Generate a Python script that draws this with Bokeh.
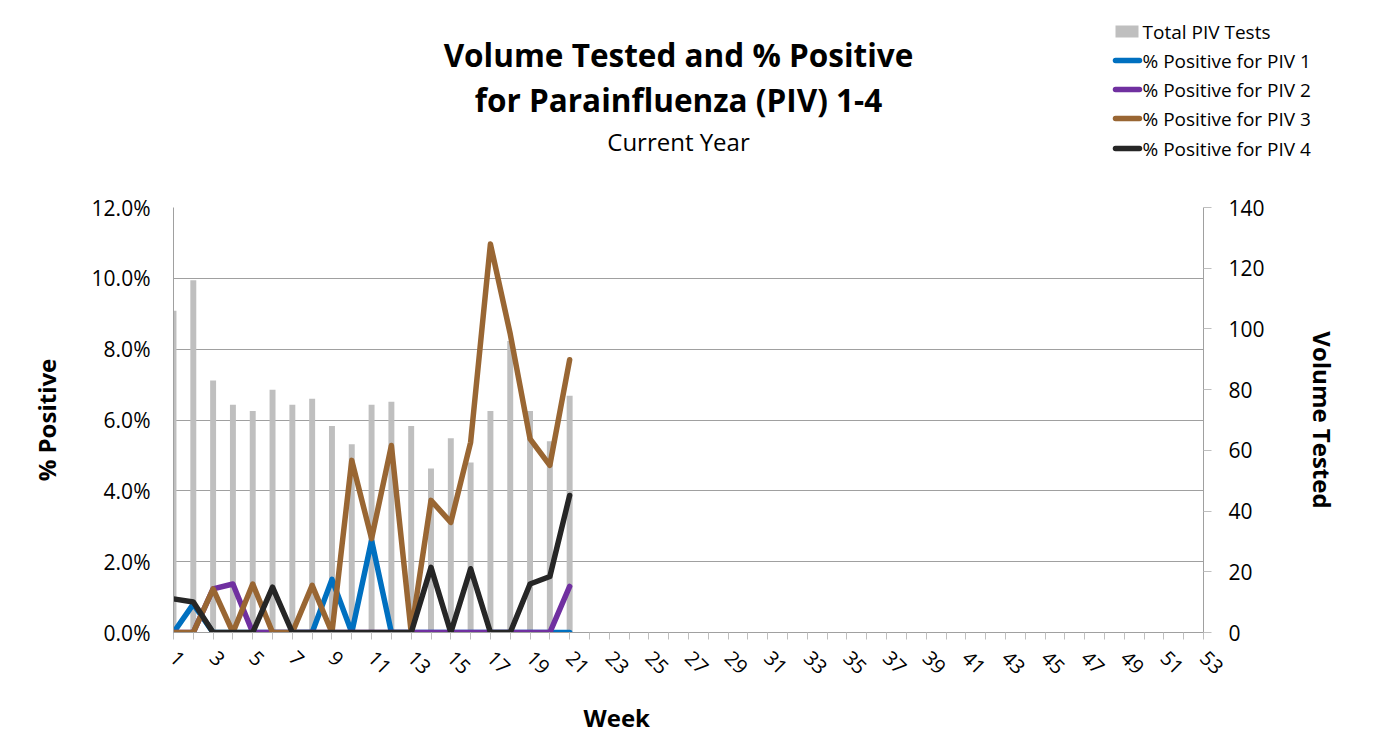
import math
from bokeh.plotting import figure
from bokeh.layouts import column
from bokeh.models import (Range1d, LinearAxis, FixedTicker, NumeralTickFormatter,
                          Label, Title, ColumnDataSource)
from bokeh.embed import file_html
from bokeh.resources import INLINE

# ---------------- data ----------------
weeks = list(range(1, 22))
total_tests = [106, 116, 83, 75, 73, 80, 75, 77, 68, 62, 75, 76, 68, 54, 64, 56, 73, 96, 73, 63, 78]
piv1_pct = [0, 0.8, 0, 0, 0, 0, 0, 0, 1.5, 0, 2.6, 0, 0, 0, 0, 0, 0, 0, 0, 0, 0]
piv2_pct = [0, 0, 1.23, 1.37, 0, 0, 0, 0, 0, 0, 0, 0, 0, 0, 0, 0, 0, 0, 0, 0, 1.3]
piv3_pct = [0, 0, 1.23, 0, 1.37, 0, 0, 1.33, 0, 4.86, 2.65, 5.28, 0, 3.73, 3.11, 5.37, 10.97, 8.43, 5.47, 4.72, 7.70]
piv4_pct = [0.95, 0.86, 0, 0, 0, 1.28, 0, 0, 0, 0, 0, 0, 0, 1.84, 0, 1.80, 0, 0, 1.37, 1.58, 3.87]

all_weeks = list(range(1, 54))
odd_week_ticks = [w for w in all_weeks if w % 2 == 1]
even_week_ticks = [w for w in all_weeks if w % 2 == 0]
pct_ticks = [0, 0.02, 0.04, 0.06, 0.08, 0.10, 0.12]
vol_ticks = [0, 20, 40, 60, 80, 100, 120, 140]

title_line1 = "Volume Tested and % Positive"
title_line2 = "for Parainfluenza (PIV) 1-4"
subtitle = "Current Year"
x_title = "Week"
series_names = ["% Positive for PIV 1", "% Positive for PIV 2", "% Positive for PIV 3", "% Positive for PIV 4"]
bar_name = "Total PIV Tests"

colors = ["#0070C0", "#7030A0", "#996633", "#262626"]
bar_color = "#BFBFBF"
FONT = "Open Sans"
LINE_W = 5.5

# ---------------- layout (pixels) ----------------
W = 1383
TOP_H = 192                            # header strip (titles + legend)
MAIN_H = 556
FL, FR, FT, FB = 173, 1203, 207, 632   # plot-frame edges on the page
LEG_X = 1112                           # legend key left edge
LEG_ROWS = [31, 60, 89, 118, 148]      # legend row centres (page y)

# ================= header figure (titles + legend) =================
head = figure(width=W, height=TOP_H, x_range=Range1d(0, W), y_range=Range1d(0, TOP_H),
              output_backend="svg", toolbar_location=None, min_border=0,
              x_axis_type=None, y_axis_type=None)
if "frame_align" in head.properties():
    head.frame_align = False
head.grid.visible = False
head.outline_line_color = None
head.background_fill_color = "white"
head.border_fill_color = "white"

for txt, px, py, size, style in [(title_line1, 678, 54, "31.5px", "bold"),
                                 (title_line2, 678, 99, "31.5px", "bold"),
                                 (subtitle, 678, 141, "24px", "normal")]:
    head.add_layout(Label(x=px, y=TOP_H - py, text=txt,
                          text_align="center", text_baseline="middle",
                          text_font=FONT, text_font_size=size, text_font_style=style,
                          text_color="#000000"))

# legend: key for the bars, then keys for the four lines
legend_labels = [bar_name] + series_names
head.quad(left=LEG_X + 3, right=LEG_X + 26, top=TOP_H - LEG_ROWS[0] + 6, bottom=TOP_H - LEG_ROWS[0] - 6,
          fill_color=bar_color, line_color=None)
for row, c in zip(LEG_ROWS[1:], colors):
    head.segment(x0=LEG_X + 3, x1=LEG_X + 27, y0=TOP_H - row, y1=TOP_H - row,
                 line_color=c, line_width=LINE_W, line_cap="round")
for row, lab in zip(LEG_ROWS, legend_labels):
    head.add_layout(Label(x=LEG_X + 30, y=TOP_H - row, text=lab,
                          text_align="left", text_baseline="middle",
                          text_font=FONT, text_font_size="19px", text_color="#000000"))

# ================= main chart =================
src = ColumnDataSource(dict(
    week=weeks, total=total_tests,
    p1=[v / 100 for v in piv1_pct], p2=[v / 100 for v in piv2_pct],
    p3=[v / 100 for v in piv3_pct], p4=[v / 100 for v in piv4_pct],
))

p = figure(width=W, height=MAIN_H, x_range=Range1d(1, 53), y_range=Range1d(0, 0.12),
           output_backend="svg", toolbar_location=None,
           min_border_left=FL, min_border_right=W - FR,
           min_border_top=FT - TOP_H, min_border_bottom=TOP_H + MAIN_H - FB)
if "frame_align" in p.properties():
    p.frame_align = False
p.extra_y_ranges = {"vol": Range1d(0, 140)}
p.outline_line_color = None
p.background_fill_color = "white"
p.border_fill_color = "white"

p.vbar(x="week", top="total", width=0.3, source=src, y_range_name="vol",
       fill_color=bar_color, line_color=None)

for col, c in zip(["p1", "p2", "p3", "p4"], colors):
    p.line(x="week", y=col, source=src, line_color=c, line_width=LINE_W,
           line_join="round", line_cap="round")

# x axis
p.xaxis.ticker = FixedTicker(ticks=odd_week_ticks, minor_ticks=even_week_ticks)
p.xaxis.major_label_orientation = -math.pi / 4
p.xaxis.major_tick_out = 7
p.xaxis.major_tick_in = 0
p.xaxis.minor_tick_out = 7
p.xaxis.minor_tick_in = 0
p.xaxis.major_label_standoff = 15

# left axis
p.yaxis.ticker = FixedTicker(ticks=pct_ticks)
p.yaxis.formatter = NumeralTickFormatter(format="0.0%")
p.yaxis.major_tick_out = 0
p.yaxis.major_tick_in = 0
p.yaxis.minor_tick_out = 0
p.yaxis.minor_tick_in = 0
p.yaxis.major_label_standoff = 23
p.yaxis.axis_label = "% Positive"
p.yaxis.axis_label_standoff = 26

# right axis
raxis = LinearAxis(y_range_name="vol", ticker=FixedTicker(ticks=vol_ticks),
                   axis_label="Volume Tested")
raxis.major_tick_out = 8
raxis.major_tick_in = 0
raxis.minor_tick_out = 0
raxis.minor_tick_in = 0
raxis.major_label_standoff = 17
raxis.axis_label_standoff = 38
p.add_layout(raxis, "right")

for ax in [p.xaxis[0], p.yaxis[0], raxis]:
    ax.axis_line_color = "#A0A0A0"
    ax.major_tick_line_color = "#BFBFBF"
    ax.minor_tick_line_color = "#BFBFBF"
    ax.major_label_text_font = FONT
    ax.major_label_text_color = "#000000"
    ax.axis_label_text_font = FONT
    ax.axis_label_text_font_style = "bold"
    ax.axis_label_text_font_size = "24px"
    ax.axis_label_text_color = "#000000"
p.xaxis.major_label_text_font_size = "20px"
p.yaxis.major_label_text_font_size = "21px"
raxis.major_label_text_font_size = "21px"

p.xgrid.grid_line_color = None
p.ygrid.ticker = FixedTicker(ticks=pct_ticks)
p.ygrid.grid_line_color = "#A0A0A0"
p.ygrid.grid_line_width = 1

# "Week" title below the axis, left-aligned with an offset to sit where the reference has it
p.add_layout(Title(text=x_title, align="left", offset=410, standoff=30,
                   text_font=FONT, text_font_size="24px", text_font_style="bold",
                   text_color="#000000"), "below")

layout = column(head, p, spacing=0)
open("out.html", "w").write(file_html(layout, INLINE))
